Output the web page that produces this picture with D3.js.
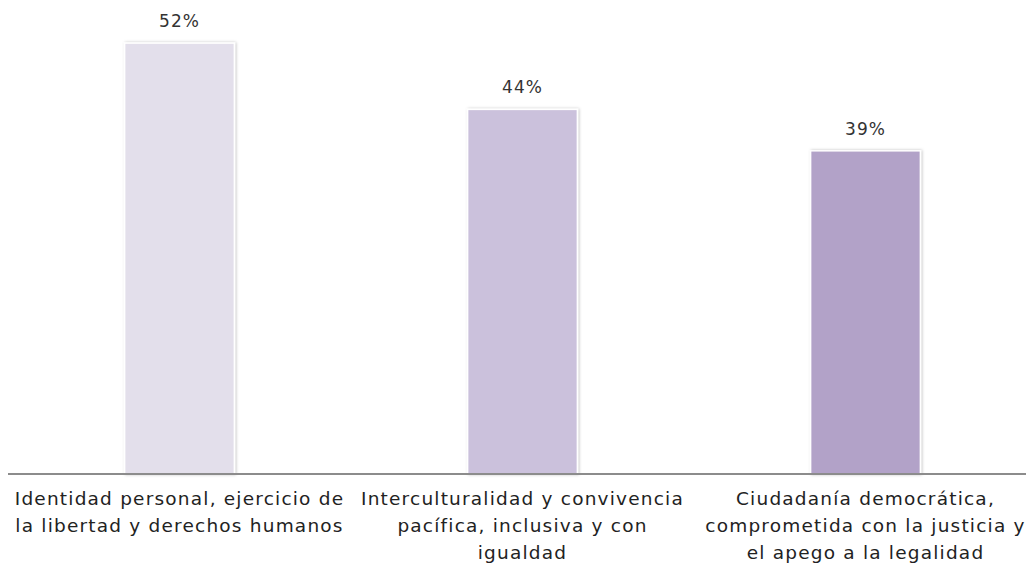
<!DOCTYPE html>
<html>
<head>
<meta charset="utf-8">
<script src="https://cdn.jsdelivr.net/npm/d3@7"></script>
<style>
  html, body { margin: 0; padding: 0; background: #ffffff; overflow: hidden; }
  svg { display: block; font-family: "DejaVu Sans", sans-serif; }
  .value-label { font-size: 17px; fill: #333333; text-anchor: middle; letter-spacing: 1px; }
  .cat-label { font-size: 18.5px; fill: #222222; text-anchor: middle; letter-spacing: 1.2px; }
</style>
</head>
<body>
<svg id="chart"></svg>
<script>
const WIDTH = 1026;
const HEIGHT = 567;

const CATEGORIES = [
  "Identidad personal, ejercicio de la libertad y derechos humanos",
  "Interculturalidad y convivencia pacífica, inclusiva y con igualdad",
  "Ciudadanía democrática, comprometida con la justicia y el apego a la legalidad"
];
const CATEGORY_LINES = [
  ["Identidad personal, ejercicio de", "la libertad y derechos humanos"],
  ["Interculturalidad y convivencia", "pacífica, inclusiva y con", "igualdad"],
  ["Ciudadanía democrática,", "comprometida con la justicia y", "el apego a la legalidad"]
];
const VALUES = [52, 44, 39];
const BAR_COLORS = ["#e3dfeb", "#cbc1dc", "#b2a2c8"];

const svg = d3.select("#chart")
  .attr("width", WIDTH)
  .attr("height", HEIGHT);

const baseline = 474;

const x = d3.scaleBand()
  .domain(CATEGORIES)
  .range([8, 1037])
  .paddingInner(0.68)
  .paddingOuter(0.34);

const y = d3.scaleLinear()
  .domain([0, 57.2])
  .range([baseline, 0]);

const defs = svg.append("defs");
const shadow = defs.append("filter")
  .attr("id", "bar-shadow")
  .attr("x", "-20%").attr("y", "-20%")
  .attr("width", "140%").attr("height", "140%");
shadow.append("feDropShadow")
  .attr("dx", 1).attr("dy", 0)
  .attr("stdDeviation", 1.5)
  .attr("flood-color", "#000000")
  .attr("flood-opacity", 0.25);

svg.append("g")
  .selectAll("rect")
  .data(VALUES)
  .join("rect")
  .attr("x", (d, i) => x(CATEGORIES[i]))
  .attr("y", (d) => y(d))
  .attr("width", x.bandwidth())
  .attr("height", (d) => baseline - y(d))
  .attr("fill", (d, i) => BAR_COLORS[i])
  .attr("stroke", "#ffffff")
  .attr("stroke-width", 1.5)
  .attr("filter", "url(#bar-shadow)");

svg.append("g")
  .selectAll("text")
  .data(VALUES)
  .join("text")
  .attr("class", "value-label")
  .attr("x", (d, i) => x(CATEGORIES[i]) + x.bandwidth() / 2)
  .attr("y", (d) => y(d) - 16)
  .text((d) => `${d}%`);

const axis = d3.axisBottom(x).tickSize(0).tickFormat("");
const axisG = svg.append("g")
  .attr("transform", `translate(0,${baseline})`)
  .call(axis);
axisG.select(".domain")
  .attr("d", `M8,0H${WIDTH}`)
  .attr("stroke", "#8c8c8c")
  .attr("stroke-width", 2);

const labels = svg.append("g")
  .selectAll("text")
  .data(CATEGORIES)
  .join("text")
  .attr("class", "cat-label")
  .attr("x", (d) => x(d) + x.bandwidth() / 2)
  .attr("y", 505);

labels.selectAll("tspan")
  .data((d, i) => CATEGORY_LINES[i])
  .join("tspan")
  .attr("x", function () { return d3.select(this.parentNode).attr("x"); })
  .attr("dy", (d, i) => (i === 0 ? 0 : 27))
  .text((d) => d);
</script>
</body>
</html>
